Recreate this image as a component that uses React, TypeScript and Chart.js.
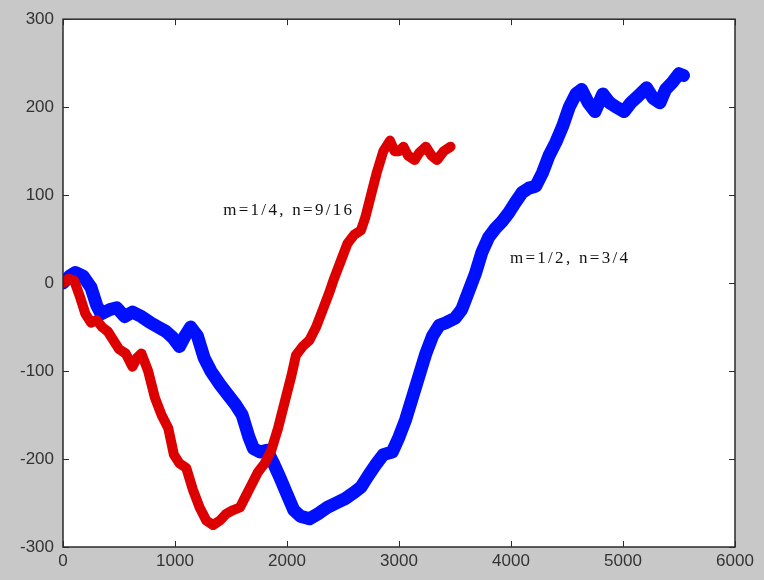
import React, { useEffect, useRef } from "react";
import { Chart, registerables } from "chart.js";

Chart.register(...registerables);

const xTicks = [0, 1000, 2000, 3000, 4000, 5000, 6000];
const yTicks = [-300, -200, -100, 0, 100, 200, 300];

const blueX = [0, 60, 110, 180, 250, 300, 340, 420, 480, 550, 620, 700, 780, 850, 920, 980, 1040, 1090, 1140, 1200, 1260, 1320, 1400, 1460, 1540, 1600, 1660, 1700, 1760, 1820, 1880, 1940, 2000, 2060, 2120, 2200, 2280, 2360, 2440, 2520, 2600, 2660, 2720, 2800, 2860, 2940, 3000, 3060, 3120, 3180, 3240, 3300, 3360, 3420, 3500, 3560, 3620, 3680, 3740, 3800, 3860, 3920, 3980, 4040, 4100, 4160, 4220, 4280, 4340, 4400, 4460, 4520, 4580, 4630, 4690, 4750, 4820, 4880, 4940, 5010, 5070, 5130, 5210, 5270, 5330, 5380, 5440, 5500, 5540];
const blueY = [0, 8, 12, 8, -5, -25, -35, -30, -28, -38, -33, -38, -45, -50, -55, -62, -72, -60, -50, -60, -85, -100, -115, -125, -138, -150, -175, -188, -192, -190, -205, -222, -240, -258, -265, -268, -262, -255, -250, -245, -238, -232, -220, -205, -195, -192, -175, -155, -130, -105, -80, -60, -48, -45, -40, -30, -10, 10, 35, 52, 62, 70, 80, 92, 103, 108, 110, 125, 145, 160, 178, 200, 215, 220, 205, 195, 215, 205, 200, 195, 205, 212, 222, 210, 205, 220, 228, 238, 236];

const redX = [0, 50, 100, 150, 200, 250, 300, 350, 400, 450, 500, 560, 620, 660, 700, 760, 820, 880, 940, 990, 1040, 1100, 1160, 1220, 1280, 1340, 1400, 1460, 1520, 1580, 1620, 1680, 1740, 1800, 1860, 1920, 1980, 2040, 2080, 2140, 2200, 2260, 2320, 2380, 2420, 2480, 2540, 2600, 2660, 2700, 2740, 2800, 2860, 2920, 2960, 3000, 3040, 3080, 3140, 3180, 3240, 3290, 3340, 3400, 3460];
const redY = [0, 5, 3, -15, -35, -45, -42, -50, -55, -65, -75, -80, -95, -85, -80, -100, -130, -150, -165, -195, -205, -210, -235, -255, -270, -275, -270, -262, -258, -255, -245, -230, -215, -205, -190, -165, -135, -105, -82, -72, -65, -50, -30, -10, 5, 25, 45, 55, 60, 75, 95, 125, 150, 162, 150, 150, 155, 145, 140, 148, 155, 145, 140, 150, 155];

const labelTexts = ["m=1/4, n=9/16", "m=1/2, n=3/4"];
const labelX = [1430, 3990];
const labelY = [82, 28];

const toPoints = (xs: number[], ys: number[]) => xs.map((x, i) => ({ x, y: ys[i] }));

const framePlugin = {
  id: "matlabFrame",
  beforeDraw(chart: any) {
    const { ctx, chartArea } = chart;
    ctx.save();
    ctx.fillStyle = "#ffffff";
    ctx.fillRect(chartArea.left, chartArea.top, chartArea.right - chartArea.left, chartArea.bottom - chartArea.top);
    ctx.restore();
  },
  afterDatasetsDraw(chart: any) {
    const { ctx, chartArea, scales } = chart;
    const { left, right, top, bottom } = chartArea;
    ctx.save();
    ctx.strokeStyle = "#2a2a2a";
    ctx.lineWidth = 1.5;
    ctx.strokeRect(left, top, right - left, bottom - top);
    ctx.lineWidth = 1;
    const tl = 6;
    ctx.beginPath();
    xTicks.forEach((v) => {
      const px = Math.round(scales.x.getPixelForValue(v)) + 0.5;
      ctx.moveTo(px, bottom);
      ctx.lineTo(px, bottom - tl);
      ctx.moveTo(px, top);
      ctx.lineTo(px, top + tl);
    });
    yTicks.forEach((v) => {
      const py = Math.round(scales.y.getPixelForValue(v)) + 0.5;
      ctx.moveTo(left, py);
      ctx.lineTo(left + tl, py);
      ctx.moveTo(right, py);
      ctx.lineTo(right - tl, py);
    });
    ctx.stroke();

    ctx.fillStyle = "#111111";
    ctx.font = '17px "Liberation Serif", serif';
    (ctx as any).letterSpacing = "2.3px";
    ctx.textAlign = "left";
    ctx.textBaseline = "middle";
    labelTexts.forEach((t, i) => {
      ctx.fillText(t, scales.x.getPixelForValue(labelX[i]), scales.y.getPixelForValue(labelY[i]));
    });
    ctx.restore();
  },
};

export default function App() {
  const ref = useRef<HTMLCanvasElement | null>(null);
  useEffect(() => {
    document.body.style.margin = "0";
    const canvas = ref.current!;
    const chart = new Chart(canvas, {
      type: "scatter",
      data: {
        datasets: [
          {
            label: "red",
            data: toPoints(redX, redY),
            showLine: true,
            borderColor: "#dd0000",
            backgroundColor: "#dd0000",
            borderWidth: 10,
            pointRadius: 0,
            tension: 0,
            borderJoinStyle: "round",
            borderCapStyle: "round",
            order: 0,
          },
          {
            label: "blue",
            data: toPoints(blueX, blueY),
            showLine: true,
            borderColor: "#0010ff",
            backgroundColor: "#0010ff",
            borderWidth: 13,
            pointRadius: 0,
            tension: 0,
            borderJoinStyle: "round",
            borderCapStyle: "round",
            order: 1,
          },
        ],
      },
      options: {
        responsive: false,
        animation: false,
        layout: { padding: { top: 15, right: 29, left: 0, bottom: 0 } },
        plugins: { legend: { display: false }, tooltip: { enabled: false } },
        scales: {
          x: {
            type: "linear",
            min: 0,
            max: 6000,
            afterFit: (s: any) => { s.height = 33; },
            afterBuildTicks: (s: any) => { s.ticks = xTicks.map((v) => ({ value: v })); },
            ticks: { color: "#333", font: { family: "'Liberation Sans', Arial, sans-serif", size: 17 }, padding: 4, maxRotation: 0, callback: (v: any) => String(v) },
            grid: { display: false, drawTicks: false },
            border: { display: false },
          },
          y: {
            type: "linear",
            min: -300,
            max: 300,
            afterFit: (s: any) => { s.width = 63; },
            afterBuildTicks: (s: any) => { s.ticks = yTicks.map((v) => ({ value: v })); },
            ticks: { color: "#333", font: { family: "'Liberation Sans', Arial, sans-serif", size: 17 }, padding: 9, callback: (v: any) => String(v) },
            grid: { display: false, drawTicks: false },
            border: { display: false },
          },
        },
      },
      plugins: [framePlugin],
    } as any);
    return () => chart.destroy();
  }, []);
  return (
    <div style={{ position: "fixed", left: 0, top: 0, width: 764, height: 580, background: "#c8c8c8" }}>
      <canvas ref={ref} width={764} height={580} style={{ display: "block" }} />
    </div>
  );
}
